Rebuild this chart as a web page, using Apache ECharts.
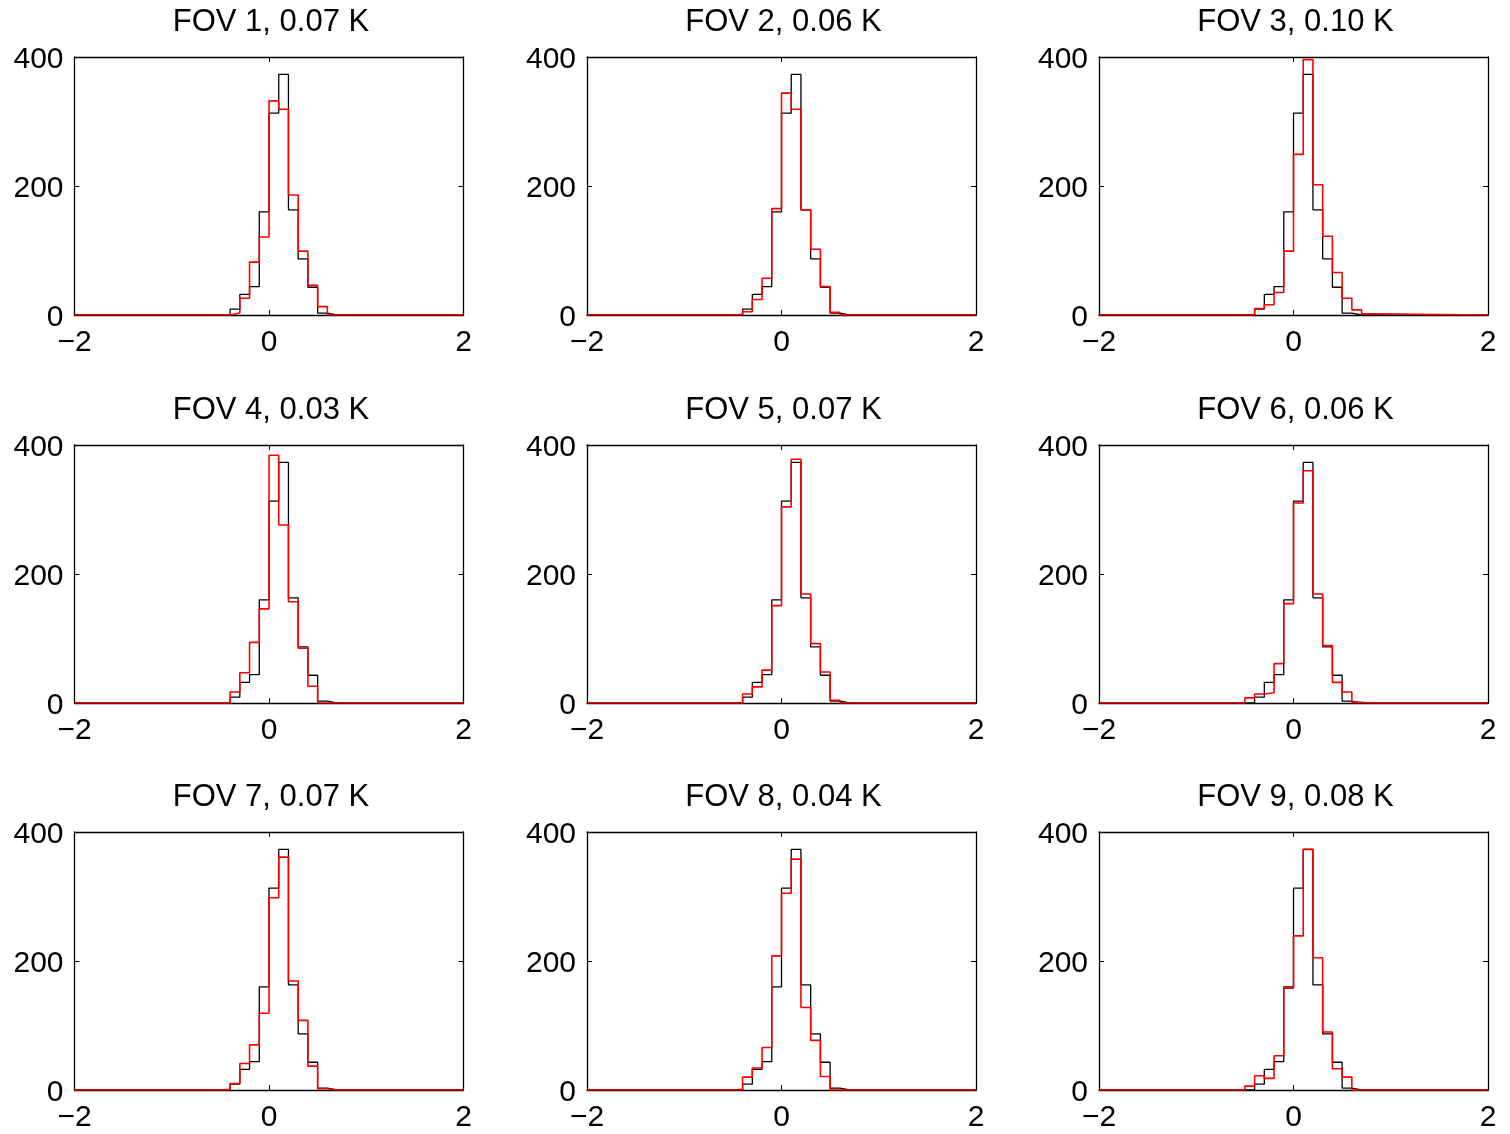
<!DOCTYPE html>
<html>
<head>
<meta charset="utf-8">
<title>FOV histograms</title>
<script src="https://cdn.jsdelivr.net/npm/echarts@6/dist/echarts.min.js"></script>
<style>
  html, body { margin: 0; padding: 0; background: #fff; }
  #chart { width: 1510px; height: 1134px; }
</style>
</head>
<body>
<div id="chart"></div>
<script>
// Histogram bin edges (width 0.1 K); counts below are per bin, starting at the first edge.
const binEdges = [-0.5, -0.4, -0.3, -0.2, -0.1, 0.0, 0.1, 0.2, 0.3, 0.4, 0.5, 0.6, 0.7, 0.8];

// Reference distribution (black), common to every panel.
const referenceCounts = [0, 9, 32, 44, 160, 313, 373, 163, 87, 43, 3, 0, 0];

// Per-FOV distributions (red).
const fov1 = [0, 3, 26, 82, 121, 332, 319, 186, 99, 46, 13, 0, 0];
const fov2 = [1, 5, 24, 57, 165, 344, 319, 163, 102, 44, 4, 0, 0];
const fov3 = [0, 10, 16, 35, 99, 249, 396, 202, 122, 66, 26, 8, 2];
const fov4 = [0, 17, 47, 94, 146, 384, 276, 157, 85, 26, 0, 0, 0];
const fov5 = [0, 14, 25, 51, 151, 304, 378, 169, 92, 48, 4, 0, 0];
const fov6 = [8, 14, 16, 61, 154, 310, 360, 169, 89, 32, 17, 1, 0];
const fov7 = [1, 10, 41, 70, 119, 298, 361, 169, 108, 37, 2, 0, 0];
const fov8 = [1, 20, 34, 66, 208, 305, 358, 128, 77, 21, 0, 0, 0];
const fov9 = [6, 22, 18, 53, 158, 239, 373, 205, 90, 33, 20, 0, 0];
const fovCounts = [fov1, fov2, fov3, fov4, fov5, fov6, fov7, fov8, fov9];

const panelTitles = [
  'FOV 1, 0.07 K', 'FOV 2, 0.06 K', 'FOV 3, 0.10 K',
  'FOV 4, 0.03 K', 'FOV 5, 0.07 K', 'FOV 6, 0.06 K',
  'FOV 7, 0.07 K', 'FOV 8, 0.04 K', 'FOV 9, 0.08 K'
];

const xRange = [-2, 2];
const yRange = [0, 400];

// Panel layout (pixels)
const colLeft = [74.5, 587, 1099];
const rowTop = [57, 445, 832];
const plotW = 389;
const plotH = 258;

const FONT = '"Liberation Sans", Arial, Helvetica, sans-serif';
const tickFont = 30;

// Turn bin counts into stair-step points spanning the full x range.
function stairPoints(counts) {
  const pts = [[xRange[0], 0]];
  for (let i = 0; i < counts.length; i++) pts.push([binEdges[i], counts[i]]);
  pts.push([binEdges[counts.length], 0]);
  pts.push([xRange[1], 0]);
  return pts;
}

const minus = v => String(v).replace('-', '\u2212');

const grid = [], xAxis = [], yAxis = [], series = [], title = [];

for (let p = 0; p < 9; p++) {
  const r = Math.floor(p / 3), c = p % 3;
  grid.push({ left: colLeft[c], top: rowTop[r], width: plotW, height: plotH, containLabel: false });

  title.push({
    text: panelTitles[p],
    left: colLeft[c] + plotW / 2 - 3,
    top: rowTop[r] - 55,
    textAlign: 'center',
    textStyle: { fontFamily: FONT, fontSize: 31, fontWeight: 'normal', color: '#000' }
  });

  const lineStyle = { color: '#000', width: 1.3 };
  const tick = { show: true, inside: true, length: 5, lineStyle: { color: '#000', width: 1 } };

  // bottom x axis with labels
  xAxis.push({
    type: 'value', gridIndex: p, position: 'bottom', min: xRange[0], max: xRange[1], interval: 2,
    axisLine: { show: true, onZero: false, lineStyle },
    axisTick: tick,
    splitLine: { show: false },
    axisLabel: { show: true, margin: 13, color: '#000', fontFamily: FONT, fontSize: tickFont, formatter: minus }
  });
  // top x axis: frame and ticks only
  xAxis.push({
    type: 'value', gridIndex: p, position: 'top', min: xRange[0], max: xRange[1], interval: 2,
    axisLine: { show: true, onZero: false, lineStyle },
    axisTick: tick,
    splitLine: { show: false },
    axisLabel: { show: false }
  });
  // left y axis with labels, nudged slightly below the tick
  yAxis.push({
    type: 'value', gridIndex: p, position: 'left', min: yRange[0], max: yRange[1], interval: 200,
    axisLine: { show: true, onZero: false, lineStyle },
    axisTick: tick,
    splitLine: { show: false },
    axisLabel: {
      show: true, margin: 11, color: '#000', fontFamily: FONT, fontSize: tickFont,
      formatter: v => '{t|' + v + '}',
      rich: { t: { fontFamily: FONT, fontSize: tickFont, color: '#000', padding: [6, 0, 0, 0] } }
    }
  });
  // right y axis: frame and ticks only
  yAxis.push({
    type: 'value', gridIndex: p, position: 'right', min: yRange[0], max: yRange[1], interval: 200,
    axisLine: { show: true, onZero: false, lineStyle },
    axisTick: tick,
    splitLine: { show: false },
    axisLabel: { show: false }
  });

  series.push({
    type: 'line', xAxisIndex: 2 * p, yAxisIndex: 2 * p, step: 'end',
    data: stairPoints(referenceCounts), showSymbol: false, symbol: 'none',
    lineStyle: { color: '#000', width: 1.3 }, z: 2, silent: true
  });
  series.push({
    type: 'line', xAxisIndex: 2 * p, yAxisIndex: 2 * p, step: 'end',
    data: stairPoints(fovCounts[p]), showSymbol: false, symbol: 'none',
    lineStyle: { color: '#ff0000', width: 1.6 }, z: 3, silent: true
  });
}

const chart = echarts.init(document.getElementById('chart'), null, { renderer: 'canvas' });
chart.setOption({
  animation: false,
  backgroundColor: '#fff',
  title, grid, xAxis, yAxis, series
});
</script>
</body>
</html>
